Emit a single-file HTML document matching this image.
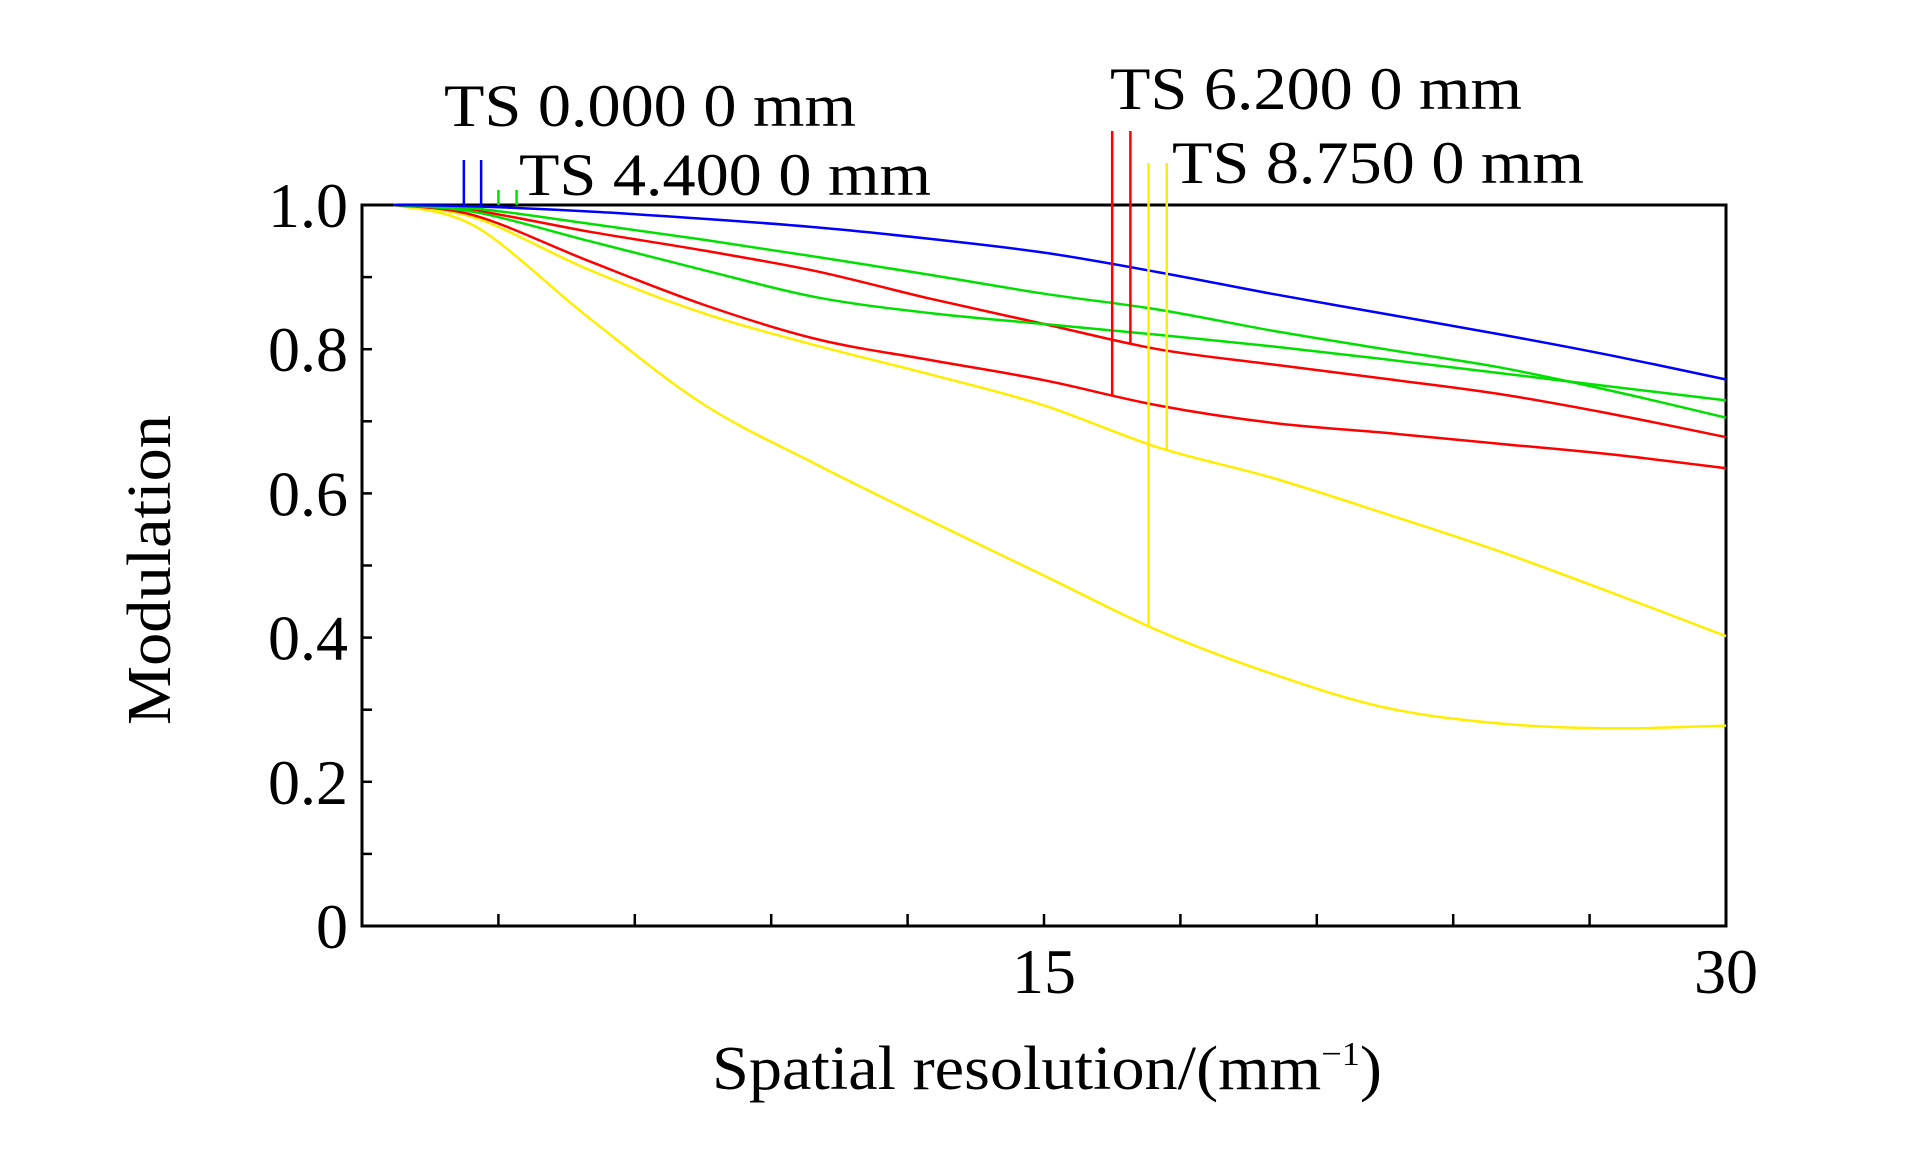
<!DOCTYPE html>
<html><head><meta charset="utf-8"><style>
html,body{margin:0;padding:0;background:#fff;}
svg{display:block;}
text{font-family:"Liberation Serif",serif;fill:#000;}
</style></head><body>
<svg id="chart" width="1923" height="1169" viewBox="0 0 1923 1169" xmlns="http://www.w3.org/2000/svg">
<g id="axes"></g>
<g id="series"></g>
<g id="markers"></g>
<text x="444" y="126" font-size="60" textLength="412" lengthAdjust="spacingAndGlyphs">TS 0.000 0 mm</text>
<text x="519" y="195" font-size="60" textLength="412" lengthAdjust="spacingAndGlyphs">TS 4.400 0 mm</text>
<text x="1110" y="109" font-size="60" textLength="412" lengthAdjust="spacingAndGlyphs">TS 6.200 0 mm</text>
<text x="1172" y="183" font-size="60" textLength="412" lengthAdjust="spacingAndGlyphs">TS 8.750 0 mm</text>
<text x="712" y="1089" font-size="62" textLength="670" lengthAdjust="spacingAndGlyphs">Spatial resolution/(mm<tspan font-size="34" dy="-24">−1</tspan><tspan dy="24">)</tspan></text>
<text x="0" y="0" font-size="62" text-anchor="middle" textLength="310" lengthAdjust="spacingAndGlyphs" transform="translate(170,570) rotate(-90)">Modulation</text>
</svg>
<script>
const xValues = [0.7, 2.5, 5, 7.5, 10, 12.5, 15, 17.5, 20, 22.5, 25, 27.5, 30];
const blueT   = [1.0, 0.998, 0.991, 0.981, 0.969, 0.953, 0.934, 0.907, 0.877, 0.849, 0.821, 0.791, 0.758];
const greenT  = [1.0, 0.995, 0.974, 0.952, 0.928, 0.903, 0.877, 0.855, 0.826, 0.800, 0.775, 0.742, 0.705];
const greenS  = [1.0, 0.990, 0.950, 0.910, 0.872, 0.850, 0.835, 0.820, 0.804, 0.786, 0.767, 0.748, 0.729];
const redT    = [1.0, 0.992, 0.963, 0.937, 0.908, 0.870, 0.835, 0.800, 0.779, 0.759, 0.738, 0.710, 0.678];
const redS    = [1.0, 0.985, 0.922, 0.862, 0.814, 0.785, 0.757, 0.722, 0.698, 0.684, 0.669, 0.654, 0.635];
const yellowT = [1.0, 0.982, 0.910, 0.850, 0.805, 0.765, 0.722, 0.664, 0.622, 0.572, 0.520, 0.462, 0.402];
const yellowS = [1.0, 0.970, 0.843, 0.724, 0.640, 0.562, 0.486, 0.410, 0.350, 0.303, 0.281, 0.274, 0.278];
const yTickLabels = ["0", "0.2", "0.4", "0.6", "0.8", "1.0"];
const yTickValues = [0, 0.2, 0.4, 0.6, 0.8, 1.0];
const xTickLabels = ["15", "30"];
const xTickValues = [15, 30];
const markerX = [2.24, 2.62, 3.0, 3.4, 16.5, 16.9, 17.3, 17.7];

const L=362,R=1726,T=205,B=926;
const xs=v=>L+(v/30)*(R-L);
const ys=v=>B-v*(B-T);
const NS="http://www.w3.org/2000/svg";
function mk(tag,attrs,parent){const e=document.createElementNS(NS,tag);for(const k in attrs)e.setAttribute(k,attrs[k]);parent.appendChild(e);return e;}
const axes=document.getElementById('axes');
let frame=mk('rect',{x:L,y:T,width:R-L,height:B-T,fill:'none',stroke:'#000','stroke-width':3},axes);


for(let i=1;i<10;i++){
  let t=mk('line',{x1:L,x2:L+10,y1:ys(i/10),y2:ys(i/10),stroke:'#000','stroke-width':2.5},axes);
  
  
}
for(let i=1;i<10;i++){
  let t=mk('line',{x1:xs(i*3),x2:xs(i*3),y1:B,y2:B-12,stroke:'#000','stroke-width':2.5},axes);
  
  
}
yTickValues.forEach((v,i)=>{
  let t=mk('text',{x:348,y:ys(v)+22,'font-size':64,'text-anchor':'end'},axes);
  t.textContent=yTickLabels[i];
  
  
});
xTickValues.forEach((v,i)=>{
  let t=mk('text',{x:xs(v),y:993,'font-size':64,'text-anchor':'middle'},axes);
  t.textContent=xTickLabels[i];
  
  
});
function interp(arr,x){
  for(let i=0;i<xValues.length-1;i++){if(x<=xValues[i+1]){const f=(x-xValues[i])/(xValues[i+1]-xValues[i]);return arr[i]+f*(arr[i+1]-arr[i]);}}
  return arr[arr.length-1];
}
function smoothPath(arr){
  const P=xValues.map((x,i)=>[xs(x),ys(arr[i])]);
  let d='M'+P[0][0].toFixed(1)+','+P[0][1].toFixed(1);
  for(let i=0;i<P.length-1;i++){
    const p0=P[Math.max(0,i-1)],p1=P[i],p2=P[i+1],p3=P[Math.min(P.length-1,i+2)];
    const c1=[p1[0]+(p2[0]-p0[0])/6,p1[1]+(p2[1]-p0[1])/6];
    const c2=[p2[0]-(p3[0]-p1[0])/6,p2[1]-(p3[1]-p1[1])/6];
    d+='C'+c1.map(v=>v.toFixed(1)).join(',')+' '+c2.map(v=>v.toFixed(1)).join(',')+' '+p2.map(v=>v.toFixed(1)).join(',');
  }
  return d;
}
const seriesList=[[yellowS,'#ffee00','yellow-s'],[yellowT,'#ffee00','yellow-t'],[redS,'#ff0000','red-s'],[redT,'#ff0000','red-t'],[greenS,'#00e000','green-s'],[greenT,'#00e000','green-t'],[blueT,'#0000ff','blue-ts']];
const sg=document.getElementById('series');
seriesList.forEach(([arr,col,name])=>{
  let p=mk('path',{d:smoothPath(arr),fill:'none',stroke:col,'stroke-width':2.5,'stroke-linejoin':'round'},sg);
  
  
});
const mg=document.getElementById('markers');
const markerSeries=[blueT,blueT,greenT,greenS,redS,redT,yellowS,yellowT];
const markerColors=['#0000ff','#0000ff','#00e000','#00e000','#ff0000','#ff0000','#ffee00','#ffee00'];
const markerTops=[160,160,190,190,131,131,163,163];
markerX.forEach((x,i)=>{
  const bottom=i<4?T:ys(interp(markerSeries[i],x));
  let l=mk('line',{x1:xs(x),x2:xs(x),y1:markerTops[i],y2:bottom,stroke:markerColors[i],'stroke-width':2.5},mg);
  
  
});
</script>
</body></html>
